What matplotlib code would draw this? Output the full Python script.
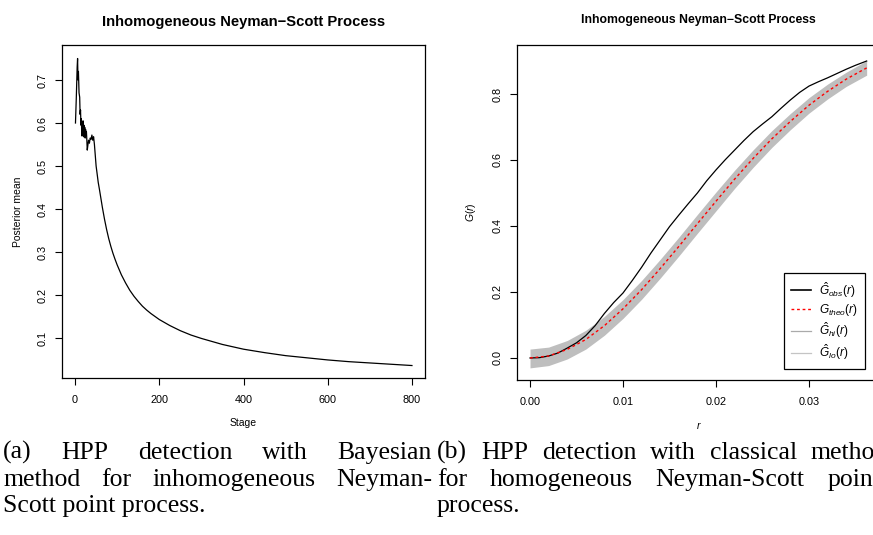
import numpy as np
import matplotlib
matplotlib.use("Agg")
import matplotlib.pyplot as plt

plt.rcParams['font.family'] = ['Liberation Sans', 'DejaVu Sans']
plt.rcParams['mathtext.fontset'] = 'custom'
plt.rcParams['mathtext.rm'] = 'Liberation Sans'
plt.rcParams['mathtext.it'] = 'Liberation Sans:italic'

# left panel: posterior mean by stage
stage = [1, 3, 5, 6, 7, 8, 9.5, 11, 12, 13, 14, 15, 16, 17, 18, 19, 20, 21, 22, 23,
         24, 25, 26, 27, 28, 29, 30, 32, 34, 36, 38, 40, 42, 44, 46, 48, 50, 52, 55,
         58, 60, 65, 70, 75, 80, 85, 90, 95, 100, 110, 120, 130, 140, 150, 160, 170,
         180, 190, 200, 225, 250, 275, 300, 350, 400, 450, 500, 550, 600, 650, 700,
         750, 800]
post_mean = [0.60, 0.66, 0.73, 0.75, 0.70, 0.72, 0.67, 0.66, 0.62, 0.63, 0.595, 0.61,
             0.57, 0.60, 0.575, 0.605, 0.568, 0.595, 0.575, 0.59, 0.565, 0.585, 0.578,
             0.58, 0.56, 0.537, 0.545, 0.56, 0.553, 0.565, 0.562, 0.572, 0.56, 0.568,
             0.55, 0.525, 0.50, 0.485, 0.462, 0.445, 0.433, 0.403, 0.376, 0.352,
             0.331, 0.313, 0.297, 0.283, 0.270, 0.247, 0.228, 0.211, 0.197, 0.185,
             0.174, 0.165, 0.157, 0.150, 0.143, 0.129, 0.117, 0.107, 0.099, 0.085,
             0.074, 0.066, 0.059, 0.054, 0.049, 0.045, 0.042, 0.039, 0.036]

# right panel: G function
r_env = [0, .002, .004, .006, .008, .010, .012, .014, .016, .018, .020, .022, .024,
         .026, .028, .030, .032, .034, .036, .0362]
g_theo = [0, .006, .026, .056, .098, .149, .207, .271, .338, .407, .475, .542, .605,
          .664, .717, .766, .808, .845, .876, .879]
g_hi = [.027, .033, .053, .084, .126, .177, .235, .299, .366, .435, .503, .569, .631,
        .689, .741, .789, .830, .866, .898, .902]
g_lo = [-.030, -.023, -.003, .027, .069, .120, .178, .242, .309, .378, .446, .514,
        .578, .638, .692, .742, .785, .823, .854, .857]
r_obs = [0, .001, .002, .003, .004, .005, .006, .007, .008, .009, .010, .011, .012,
         .013, .014, .015, .016, .017, .018, .019, .020, .021, .022, .023, .024, .025,
         .026, .027, .028, .029, .030, .031, .032, .033, .034, .035, .0362]
g_obs = [0, .001, .006, .015, .030, .046, .068, .098, .135, .168, .197, .235, .275,
         .318, .358, .398, .433, .467, .500, .537, .570, .601, .630, .659, .686, .709,
         .731, .757, .782, .805, .824, .837, .849, .862, .875, .887, .900]

W, H = 873, 535
fig = plt.figure(figsize=(W / 100, H / 100), dpi=100)

def px_axes(x0, y0, x1, y1):
    return fig.add_axes([x0 / W, 1 - y1 / H, (x1 - x0) / W, (y1 - y0) / H])

def style(ax):
    for s in ax.spines.values():
        s.set_linewidth(0.9)
    ax.tick_params(length=5, width=0.8, labelsize=7.8, pad=7)
    ax.tick_params(axis='y', pad=5)
    for lbl in ax.get_yticklabels():
        lbl.set_rotation(90)
        lbl.set_va('center')

# ---- left
ax1 = px_axes(62, 45, 425, 378)
ax1.plot(stage, post_mean, color='black', lw=0.9)
ax1.set_xlim(-31, 831)
ax1.set_ylim(0.007, 0.7814)
ax1.set_xticks([0, 200, 400, 600, 800])
ax1.set_yticks([0.1, 0.2, 0.3, 0.4, 0.5, 0.6, 0.7])
style(ax1)
ax1.set_title('Inhomogeneous Neyman\u2212Scott Process', fontsize=10.6,
              fontweight='bold', pad=14)
ax1.set_xlabel('Stage', fontsize=7.5)
ax1.set_ylabel('Posterior mean', fontsize=7.5)
ax1.xaxis.set_label_coords(0.5, -0.12)
ax1.yaxis.set_label_coords(-0.107, 0.5)

# ---- right
ax2 = px_axes(517, 45, 880.6, 380)
ax2.fill_between(r_env, g_lo, g_hi, color='#bebebe', lw=0)
ax2.plot(r_obs, g_obs, color='black', lw=0.9)
ax2.plot(r_env, g_theo, color='red', lw=1.0, dashes=(2, 2))
ax2.set_xlim(-0.0014, 0.0377)
ax2.set_ylim(-0.0667, 0.9485)
ax2.set_xticks([0.00, 0.01, 0.02, 0.03])
ax2.set_xticklabels(['0.00', '0.01', '0.02', '0.03'])
ax2.set_yticks([0.0, 0.2, 0.4, 0.6, 0.8])
ax2.set_yticklabels(['0.0', '0.2', '0.4', '0.6', '0.8'])
style(ax2)
ax2.set_title('Inhomogeneous Neyman\u2212Scott Process', fontsize=8.8,
              fontweight='bold', pad=16)
ax2.set_xlabel('$r$', fontsize=7.5)
ax2.set_ylabel('$G(r)$', fontsize=7.5)
ax2.xaxis.set_label_coords(0.5, -0.119)
ax2.yaxis.set_label_coords(-0.106, 0.5)

handles = [
    plt.Line2D([], [], color='black', lw=1.2),
    plt.Line2D([], [], color='red', lw=1.0, dashes=(2, 2)),
    plt.Line2D([], [], color='#aaaaaa', lw=0.9),
    plt.Line2D([], [], color='#c4c4c4', lw=0.9),
]
labels = [r'$\hat{G}_{obs}(r)$', r'$G_{theo}(r)$', r'$\hat{G}_{hi}(r)$',
          r'$\hat{G}_{lo}(r)$']
leg = ax2.legend(handles, labels, loc='upper right',
                 bbox_to_anchor=((865 - 517) / 363.6, (380 - 273) / 335),
                 borderaxespad=0, fontsize=8.6, fancybox=False, framealpha=1,
                 edgecolor='black', handlelength=1.6, handletextpad=0.7,
                 labelspacing=0.2, borderpad=0.6)
leg.get_frame().set_linewidth(0.9)

# ---- captions (justified like the LaTeX subcaptions; the right column runs
# past the page edge in the source, so its ends are cut)
cap = dict(fontsize=18.5, family=['Liberation Serif', 'DejaVu Serif'],
           va='baseline', ha='left')
lines = [
    (459, 3, 432, ['(a)', 'HPP', 'detection', 'with', 'Bayesian']),
    (486, 3, 432, ['method', 'for', 'inhomogeneous', 'Neyman-']),
    (512, 3, None, ['Scott point process.']),
    (459, 437, 888, ['(b)', 'HPP', 'detection', 'with', 'classical', 'method']),
    (486, 437, 880, ['for', 'homogeneous', 'Neyman-Scott', 'point']),
    (512, 437, None, ['process.']),
]
renderer = fig.canvas.get_renderer()
for y, x0, x1, words in lines:
    texts = [fig.text(x0 / W, 1 - y / H, w, **cap) for w in words]
    if x1 is None:
        continue
    widths = [t.get_window_extent(renderer).width for t in texts]
    gap = (x1 - x0 - sum(widths)) / (len(words) - 1)
    x = x0
    for t, w in zip(texts, widths):
        t.set_x(x / W)
        x += w + gap

fig.savefig('out.png', dpi=100)
